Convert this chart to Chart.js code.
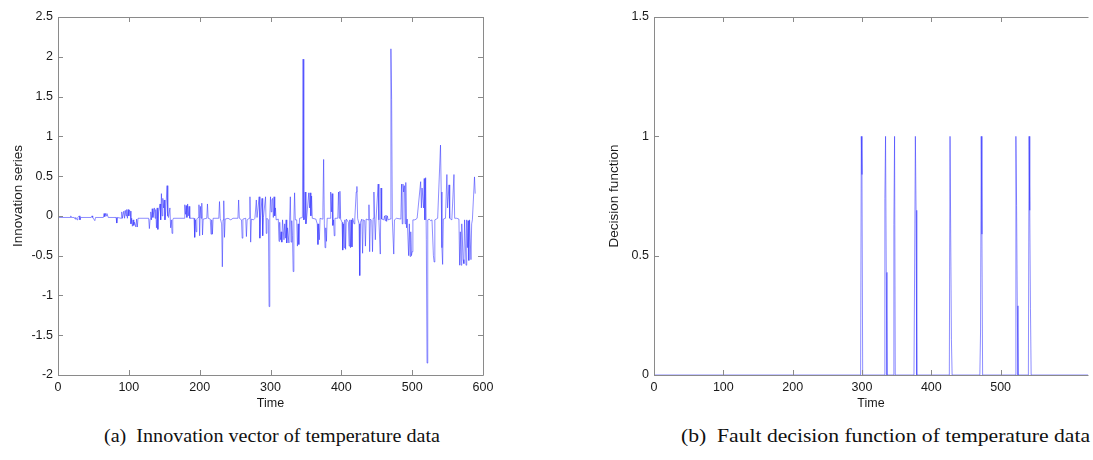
<!DOCTYPE html>
<html>
<head>
<meta charset="utf-8">
<script src="https://cdn.jsdelivr.net/npm/chart.js@4"></script>
<style>
  html, body { margin: 0; padding: 0; background: #fff; overflow: hidden; }
  body { width: 1093px; height: 460px; position: relative; }
  .box { position: absolute; top: 0; }
  .cap { position: absolute; top: 425px; font: 19px "Liberation Serif", serif; color: #111; white-space: pre; transform-origin: 0 0; }
</style>
</head>
<body>
<div class="box" style="left:0;width:540px;height:420px"><canvas id="innov"></canvas></div>
<div class="box" style="left:596px;width:497px;height:420px"><canvas id="decision"></canvas></div>
<div class="cap" id="capA" data-x0="104" data-x1="440">(a)  Innovation vector of temperature data</div>
<div class="cap" id="capB" data-x0="681" data-x1="1090">(b)  Fault decision function of temperature data</div>
<script>
// Innovation series (time index, value).
const innovT = [0,17,18,19,23,24,25,27,28,30,31,32,47,48,49,52,53,64,65,66,67,68,69,71,82,83,84,89,90,91,93,94,95,96,97,98,99,100,101,102,103,104,105,106,107,108,110,111,112,113,128,129,130,131,132,133,134,136,137,138,139,140,141,142,144,145,146,147,148,149,150,151,152,154,155,156,158,159,160,161,162,163,178,179,180,181,182,183,184,185,186,192,193,194,195,196,198,199,200,201,202,203,204,205,210,211,212,215,216,217,218,219,227,228,229,231,232,233,234,235,236,240,244,247,254,255,256,259,260,261,265,266,267,270,271,272,273,276,278,280,281,284,285,286,288,289,290,293,294,295,297,298,299,300,301,302,303,304,305,306,307,308,311,312,313,314,315,316,317,319,320,321,322,323,324,326,327,328,329,330,331,332,333,334,335,337,338,339,340,341,345,346,347,348,349,350,351,354,355,356,357,358,359,364,366,367,368,369,370,373,374,375,376,377,378,379,380,384,385,386,387,388,389,390,391,395,396,397,398,399,401,402,403,404,405,406,407,410,411,412,413,414,415,416,418,419,421,422,423,425,426,427,429,430,431,433,434,435,438,439,440,441,443,444,445,446,447,448,449,452,453,455,456,457,460,461,462,463,464,465,466,469,470,471,472,474,475,478,484,485,486,487,488,489,490,491,492,493,495,496,497,498,499,500,501,504,507,512,513,514,515,516,517,518,519,520,521,522,524,526,528,530,531,532,534,536,540,541,542,543,544,547,549,550,552,553,556,559,560,563,566,567,568,569,570,572,573,574,576,577,578,579,580,581,583,584,585,588,589];
const innovV = [-0.02,-0.02,0.0,-0.02,-0.02,-0.04,-0.02,-0.05,-0.02,0.0,-0.05,-0.02,-0.02,0.0,-0.02,-0.06,-0.02,-0.02,0.03,-0.01,0.03,0.0,0.03,-0.02,-0.02,-0.09,-0.02,-0.03,0.05,-0.03,0.06,-0.03,0.07,0.0,0.08,-0.03,0.08,0.0,0.07,0.06,-0.1,-0.03,-0.13,-0.05,-0.12,-0.08,-0.14,-0.04,-0.14,-0.03,-0.03,-0.16,-0.04,0.05,-0.05,0.09,-0.02,0.1,-0.03,0.08,-0.15,0.1,-0.17,0.05,0.15,-0.05,0.28,0.0,0.22,0.1,0.2,-0.05,0.05,0.38,0.0,-0.02,0.1,-0.15,-0.05,-0.22,-0.05,-0.03,-0.03,0.14,0.02,0.13,-0.02,0.15,0.0,0.12,-0.03,-0.03,-0.27,-0.05,-0.2,-0.04,-0.02,0.14,-0.25,0.12,-0.03,0.16,-0.24,-0.04,-0.03,0.15,-0.03,-0.04,-0.23,-0.05,-0.23,-0.03,-0.03,0.18,-0.03,-0.1,-0.64,-0.05,0.19,-0.27,-0.04,-0.03,-0.05,-0.03,-0.03,0.2,-0.03,-0.05,-0.28,-0.04,-0.03,-0.26,-0.05,-0.03,0.24,-0.33,-0.04,-0.05,-0.03,0.2,-0.02,0.24,-0.28,0.0,0.22,-0.25,-0.02,0.24,-0.22,-0.03,-0.05,-1.14,-0.02,0.24,0.05,0.2,0.22,-0.02,0.24,0.0,0.1,-0.05,-0.04,-0.32,-0.08,-0.3,-0.2,-0.33,-0.05,-0.3,-0.1,-0.28,-0.05,-0.34,-0.15,-0.34,-0.05,0.24,-0.33,-0.06,-0.25,-0.7,-0.05,0.29,-0.05,-0.05,-0.38,-0.1,-0.36,-0.03,-0.02,1.97,-0.05,-0.04,0.3,-0.1,-0.03,0.29,0.1,0.29,0.0,0.25,-0.03,-0.04,-0.1,-0.36,-0.1,-0.3,-0.03,-0.04,0.1,0.71,-0.1,-0.4,-0.15,-0.32,-0.03,-0.03,0.3,0.05,0.28,-0.12,-0.05,-0.25,-0.03,-0.03,0.3,-0.03,0.31,-0.04,-0.08,-0.43,-0.1,-0.4,-0.05,-0.42,-0.04,-0.08,-0.38,-0.05,-0.4,-0.05,-0.39,-0.03,-0.1,-0.04,0.3,0.37,-0.03,-0.1,-0.75,-0.08,-0.04,-0.47,-0.05,-0.06,-0.38,-0.04,-0.05,0.14,-0.45,-0.04,-0.06,-0.45,-0.03,0.3,-0.05,-0.3,-0.04,0.4,-0.05,-0.48,0.35,-0.04,-0.05,0.0,-0.06,0.01,-0.07,0.0,-0.05,-0.04,2.1,1.46,-0.05,-0.48,-0.05,-0.03,-0.04,0.4,-0.1,0.4,0.3,0.38,-0.1,0.42,-0.15,-0.04,-0.5,-0.1,-0.51,-0.2,-0.5,-0.45,-0.05,-0.05,-0.03,0.43,0.1,0.35,0.35,0.1,0.47,-0.05,0.48,-0.3,-1.85,-0.05,-0.04,-0.06,-0.05,-0.5,-0.58,-0.05,-0.04,-0.03,0.89,0.3,-0.4,-0.61,-0.04,-0.03,0.52,0.1,0.39,-0.03,-0.05,0.52,-0.03,-0.03,-0.04,-0.62,-0.2,-0.62,-0.1,-0.55,-0.6,-0.05,-0.62,-0.05,-0.4,-0.06,-0.56,-0.05,-0.55,-0.1,-0.05,0.49,0.28];

// Fault decision function.
const decisionT = [0,298,299,300,301,332,333,334,335,336,345,346,347,348,375,376,377,378,379,426,427,428,429,430,470,471,472,473,474,521,522,523,524,525,540,541,542,543,544,626];
const decisionV = [0,0,1,0.84,0,0,0.74,1,0.43,0,0,0.63,1,0,0,0.49,1,0.69,0,0,1,1,0.15,0,0,0.18,1,0.59,0,0,1,0.71,0.29,0,0,1,0.69,0.28,0,0];

const innovTicksY = [-2, -1.5, -1, -0.5, 0, 0.5, 1, 1.5, 2, 2.5];
const decisionTicksY = [0, 0.5, 1, 1.5];

const FONT = '"Liberation Sans", Arial, sans-serif';
const INK = '#1a1a1a';
const FRAME = '#8a8a8a';
const LINE = 'rgba(50,50,255,0.55)';

// MATLAB-style box with inward tick marks on every side.
const framePlugin = {
  id: 'frame',
  afterDraw(chart, _args, opts) {
    const { ctx, chartArea: a, scales } = chart;
    const len = 5;
    ctx.save();
    ctx.strokeStyle = FRAME;
    ctx.lineWidth = 1;
    ctx.beginPath();
    ctx.moveTo(a.right + 0.5, a.top + 0.5);
    ctx.lineTo(a.left + 0.5, a.top + 0.5);
    ctx.lineTo(a.left + 0.5, a.bottom + 0.5);
    ctx.lineTo(a.right + 0.5, a.bottom + 0.5);
    if (opts.rightEdge !== false) ctx.lineTo(a.right + 0.5, a.top + 0.5);
    ctx.stroke();
    ctx.beginPath();
    scales.x.ticks.forEach((t, i) => {
      if (scales.x._tickMark && !scales.x._tickMark(t.value)) return;
      const x = Math.round(scales.x.getPixelForTick(i)) + 0.5;
      ctx.moveTo(x, a.bottom); ctx.lineTo(x, a.bottom - len);
      ctx.moveTo(x, a.top); ctx.lineTo(x, a.top + len);
    });
    scales.y.ticks.forEach((t, i) => {
      const y = Math.round(scales.y.getPixelForTick(i)) + 0.5;
      ctx.moveTo(a.left, y); ctx.lineTo(a.left + len, y);
      if (opts.rightEdge !== false) { ctx.moveTo(a.right, y); ctx.lineTo(a.right - len, y); }
    });
    ctx.stroke();
    ctx.restore();
  },
};

const tickFont = { family: FONT, size: 12.5 };
const xTitle = { display: true, text: 'Time', color: INK, padding: { top: 0, bottom: 9 }, font: { family: FONT, size: 12.5, lineHeight: 1.2 } };
const yTitle = text => ({ display: true, text, color: INK, padding: { top: 10, bottom: 0 }, font: { family: FONT, size: 13.5, lineHeight: 1.2 } });
const noGrid = { display: false, drawTicks: false };

function fmt(v) { return String(Math.round(v * 100) / 100); }

new Chart(document.getElementById('innov'), {
  type: 'line',
  data: { datasets: [{
    data: innovT.map((t, i) => ({ x: t, y: innovV[i] })),
    parsing: false, borderColor: LINE, borderWidth: 1, pointRadius: 0, tension: 0, fill: false,
  }] },
  options: {
    responsive: true, maintainAspectRatio: false, animation: false, events: [],
    layout: { padding: { top: 17, right: 57, left: 0, bottom: 0 } },
    scales: {
      x: {
        type: 'linear', min: 0, max: 600, grid: noGrid, border: { display: false },
        ticks: { color: INK, font: tickFont, padding: 5, stepSize: 100, maxRotation: 0, autoSkip: false },
        title: xTitle,
        afterFit: s => { s.height = 45; },
      },
      y: {
        type: 'linear', min: -2, max: 2.5, grid: noGrid, border: { display: false },
        afterBuildTicks: s => { s.ticks = innovTicksY.map(v => ({ value: v })); },
        ticks: { color: INK, font: tickFont, padding: 5, callback: fmt },
        title: yTitle('Innovation series'),
        afterFit: s => { s.width = 58; },
      },
    },
    plugins: { legend: { display: false }, tooltip: { enabled: false }, frame: {} },
  },
  plugins: [framePlugin],
});

new Chart(document.getElementById('decision'), {
  type: 'line',
  data: { datasets: [{
    data: decisionT.map((t, i) => ({ x: t, y: decisionV[i] })),
    parsing: false, borderColor: LINE, borderWidth: 1, pointRadius: 0, tension: 0, fill: false,
  }] },
  options: {
    responsive: true, maintainAspectRatio: false, animation: false, events: [],
    layout: { padding: { top: 17, right: 0, left: 0, bottom: 0 } },
    scales: {
      x: {
        type: 'linear', min: 0, max: 626, grid: noGrid, border: { display: false },
        ticks: { color: INK, font: tickFont, padding: 5, stepSize: 100, maxRotation: 0, autoSkip: false,
          callback: v => (v % 100 === 0 && v <= 500) ? String(v) : '' },
        title: xTitle,
        afterFit: s => { s.height = 45; s._tickMark = v => v % 100 === 0 && v <= 500; },
      },
      y: {
        type: 'linear', min: 0, max: 1.5, grid: noGrid, border: { display: false },
        afterBuildTicks: s => { s.ticks = decisionTicksY.map(v => ({ value: v })); },
        ticks: { color: INK, font: tickFont, padding: 5, callback: fmt },
        title: yTitle('Decision function'),
        afterFit: s => { s.width = 58; },
      },
    },
    plugins: { legend: { display: false }, tooltip: { enabled: false }, frame: { rightEdge: false } },
  },
  plugins: [framePlugin],
});

// stretch each caption to the span it covers in the figure
for (const el of document.querySelectorAll('.cap')) {
  const x0 = +el.dataset.x0, x1 = +el.dataset.x1;
  const w = el.getBoundingClientRect().width;
  el.style.left = x0 + 'px';
  el.style.transform = `scaleX(${(x1 - x0) / w})`;
}
</script>
</body>
</html>
